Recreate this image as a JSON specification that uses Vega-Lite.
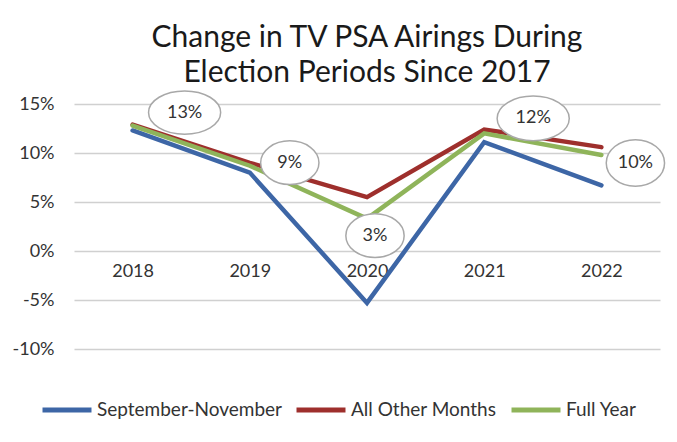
{
  "$schema": "https://vega.github.io/schema/vega-lite/v6.json",
  "width": 586,
  "height": 245,
  "autosize": {"type": "none"},
  "padding": {"left": 74, "top": 104, "right": 17, "bottom": 93},
  "background": "white",
  "title": {
    "text": "Change in TV PSA Airings During",
    "subtitle": "Election Periods Since 2017",
    "font": "Lato",
    "subtitleFont": "Lato",
    "fontSize": 30,
    "subtitleFontSize": 30,
    "fontWeight": "normal",
    "subtitleFontWeight": "normal",
    "color": "#1a1a1a",
    "subtitleColor": "#1a1a1a",
    "subtitlePadding": 5,
    "anchor": "middle",
    "offset": 0
  },
  "config": {
    "view": {"stroke": null},
    "font": "Lato"
  },
  "data": {
    "values": [
      {"year": "2018", "series": "September-November", "value": 12.3},
      {"year": "2019", "series": "September-November", "value": 8.0},
      {"year": "2020", "series": "September-November", "value": -5.3},
      {"year": "2021", "series": "September-November", "value": 11.1},
      {"year": "2022", "series": "September-November", "value": 6.7},
      {"year": "2018", "series": "All Other Months", "value": 12.9},
      {"year": "2019", "series": "All Other Months", "value": 9.0},
      {"year": "2020", "series": "All Other Months", "value": 5.5},
      {"year": "2021", "series": "All Other Months", "value": 12.4},
      {"year": "2022", "series": "All Other Months", "value": 10.6},
      {"year": "2018", "series": "Full Year", "value": 12.8, "label": "13%"},
      {"year": "2019", "series": "Full Year", "value": 8.7, "label": "9%"},
      {"year": "2020", "series": "Full Year", "value": 3.3, "label": "3%"},
      {"year": "2021", "series": "Full Year", "value": 12.0, "label": "12%"},
      {"year": "2022", "series": "Full Year", "value": 9.8, "label": "10%"}
    ]
  },
  "encoding": {
    "x": {
      "field": "year",
      "type": "ordinal",
      "scale": {"type": "point", "padding": 0.5},
      "axis": {
        "title": null,
        "labelAngle": 0,
        "ticks": false,
        "domain": false,
        "grid": false,
        "offset": -98,
        "labelPadding": 11,
        "labelFontSize": 18,
        "labelColor": "#333333"
      }
    },
    "y": {
      "field": "value",
      "type": "quantitative",
      "scale": {"domain": [-10, 15], "nice": false, "zero": false},
      "axis": {
        "title": null,
        "values": [-10, -5, 0, 5, 10, 15],
        "labelExpr": "datum.value + '%'",
        "ticks": false,
        "domain": false,
        "grid": true,
        "gridColor": "#d0d0d0",
        "gridWidth": 1.5,
        "labelPadding": 20,
        "labelFontSize": 18,
        "labelColor": "#333333"
      }
    }
  },
  "layer": [
    {
      "mark": {"type": "line", "strokeWidth": 4.5, "strokeCap": "round", "strokeJoin": "miter"},
      "encoding": {
        "color": {
          "field": "series",
          "type": "nominal",
          "scale": {
            "domain": ["September-November", "All Other Months", "Full Year"],
            "range": ["#3d66a6", "#9e2f2c", "#8fb45a"]
          },
          "legend": {
            "title": null,
            "orient": "none",
            "legendX": -34,
            "legendY": 279,
            "direction": "horizontal",
            "symbolType": "stroke",
            "symbolSize": 2400,
            "symbolStrokeWidth": 5,
            "labelFontSize": 19,
            "labelLimit": 400,
            "labelColor": "#333333",
            "labelOffset": 3,
            "columnPadding": 4
          }
        },
        "order": {"field": "series", "sort": "descending"}
      }
    },
    {
      "transform": [{"filter": "datum.year == '2018' && datum.series == 'Full Year'"}],
      "layer": [
        {"mark": {"type": "point", "shape": "M-1,0A1,0.6,0,1,1,1,0A1,0.6,0,1,1,-1,0Z", "size": 5200, "filled": true, "fill": "white", "stroke": "#a8a8a8", "strokeWidth": 1.5, "opacity": 1, "xOffset": 52, "yOffset": -13}},
        {"mark": {"type": "text", "fontSize": 18, "color": "#333333", "xOffset": 52, "yOffset": -13}, "encoding": {"text": {"field": "label"}}}
      ]
    },
    {
      "transform": [{"filter": "datum.year == '2019' && datum.series == 'Full Year'"}],
      "layer": [
        {"mark": {"type": "point", "shape": "M-1,0A1,0.75,0,1,1,1,0A1,0.75,0,1,1,-1,0Z", "size": 3400, "filled": true, "fill": "white", "stroke": "#a8a8a8", "strokeWidth": 1.5, "opacity": 1, "xOffset": 40, "yOffset": -3}},
        {"mark": {"type": "text", "fontSize": 18, "color": "#333333", "xOffset": 40, "yOffset": -3}, "encoding": {"text": {"field": "label"}}}
      ]
    },
    {
      "transform": [{"filter": "datum.year == '2020' && datum.series == 'Full Year'"}],
      "layer": [
        {"mark": {"type": "point", "shape": "M-1,0A1,0.75,0,1,1,1,0A1,0.75,0,1,1,-1,0Z", "size": 3400, "filled": true, "fill": "white", "stroke": "#a8a8a8", "strokeWidth": 1.5, "opacity": 1, "xOffset": 8, "yOffset": 17}},
        {"mark": {"type": "text", "fontSize": 18, "color": "#333333", "xOffset": 8, "yOffset": 17}, "encoding": {"text": {"field": "label"}}}
      ]
    },
    {
      "transform": [{"filter": "datum.year == '2021' && datum.series == 'Full Year'"}],
      "layer": [
        {"mark": {"type": "point", "shape": "M-1,0A1,0.62,0,1,1,1,0A1,0.62,0,1,1,-1,0Z", "size": 5200, "filled": true, "fill": "white", "stroke": "#a8a8a8", "strokeWidth": 1.5, "opacity": 1, "xOffset": 49, "yOffset": -15}},
        {"mark": {"type": "text", "fontSize": 18, "color": "#333333", "xOffset": 49, "yOffset": -15}, "encoding": {"text": {"field": "label"}}}
      ]
    },
    {
      "transform": [{"filter": "datum.year == '2022' && datum.series == 'Full Year'"}],
      "layer": [
        {"mark": {"type": "point", "shape": "M-1,0A1,0.8,0,1,1,1,0A1,0.8,0,1,1,-1,0Z", "size": 3400, "filled": true, "fill": "white", "stroke": "#a8a8a8", "strokeWidth": 1.5, "opacity": 1, "xOffset": 34, "yOffset": 8}},
        {"mark": {"type": "text", "fontSize": 18, "color": "#333333", "xOffset": 34, "yOffset": 8}, "encoding": {"text": {"field": "label"}}}
      ]
    }
  ]
}
